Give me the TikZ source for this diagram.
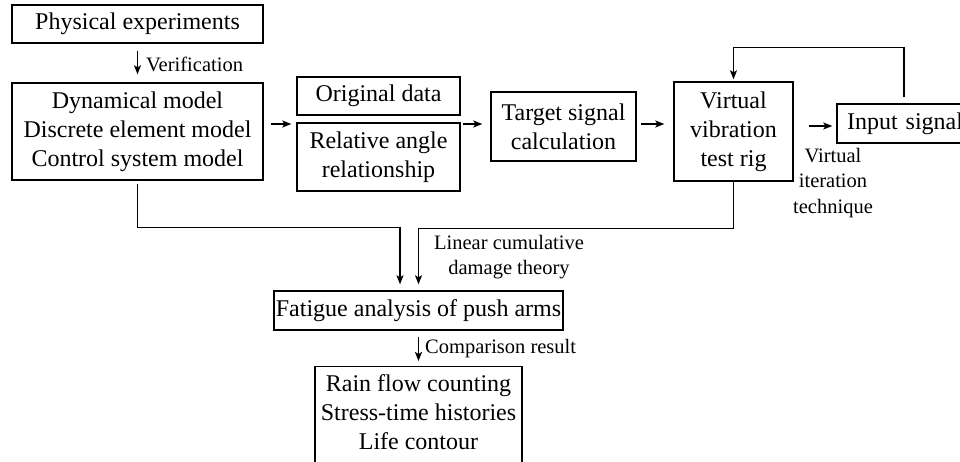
\documentclass[tikz,border=0pt]{standalone}
\usepackage{fontspec}
\setmainfont{Liberation Serif}
\usetikzlibrary{arrows.meta}
\begin{document}
\begin{tikzpicture}[x=1pt, y=-1pt,
    box/.style = {draw, line width=1.4pt, align=center, inner sep=0pt, font=\fontsize{24}{29}\selectfont},
    lbl/.style = {inner sep=0pt, align=center, font=\fontsize{20.5}{25.5}\selectfont},
    arr/.style = {line width=1.4pt, -{Stealth[length=9pt,width=7pt,inset=2pt]}}]
    \useasboundingbox (0,0) rectangle (960,462);
    \node[box, minimum width=251pt, minimum height=38pt] (phys) at (137.5,24) {Physical experiments};
    \node[box, minimum width=251pt, minimum height=97pt] (dyn) at (137.5,131.5) {Dynamical model\\Discrete element model\\Control system model};
    \node[box, minimum width=163pt, minimum height=38pt] (orig) at (378.5,96) {Original data};
    \node[box, minimum width=163pt, minimum height=68pt] (rel) at (378.5,157) {Relative angle\\relationship};
    \node[box, minimum width=145pt, minimum height=69pt] (target) at (563.5,126.5) {Target signal\\calculation};
    \node[box, minimum width=119pt, minimum height=99pt] (virt) at (733.5,131.5) {Virtual\\vibration\\test rig};
    \node[box, minimum width=150pt, minimum height=39pt, text width=130pt, align=left] (input) at (912,123.5) {Input signal};
    \node[box, minimum width=289pt, minimum height=39pt] (fatigue) at (418.5,310.5) {Fatigue analysis of push arms};
    \node[box, minimum width=207pt, minimum height=108pt, anchor=north] (result) at (418.5,366) {\\[-42pt]Rain flow counting\\Stress-time histories\\Life contour};
    % labels
    \node[lbl, anchor=west] (verif) at (146,64) {Verification};
    \node[lbl] (vit) at (833,183) {Virtual\\iteration\\technique};
    \node[lbl] (lcd) at (509,257) {Linear cumulative\\damage theory};
    \node[lbl, anchor=west] (comp) at (425,349) {Comparison result};
    % connectors
    \draw[arr, shorten <=7pt, shorten >=8pt] (phys.south) -- (dyn.north);
    \draw[arr, shorten <=7pt, shorten >=5pt] ([yshift=7.5pt]dyn.east) -- (rel.west |- 0,124);
    \draw[arr, shorten <=2pt, shorten >=8pt] (rel.east |- 0,124) -- (target.west |- 0,124);
    \draw[arr, shorten <=4pt, shorten >=9pt] (target.east |- 0,124) -- (virt.west |- 0,124);
    \draw[arr, shorten <=15pt, shorten >=4pt] (virt.east |- 0,126) -- (input.west |- 0,126);
    \draw[arr, shorten <=6pt, shorten >=2pt] ([xshift=-8pt]input.north) -- ++(0,-56) -| (virt.north);
    \draw[arr, shorten <=3pt, shorten >=6pt] (dyn.south) -- ++(0,47) -| ([xshift=-18.5pt]fatigue.north);
    \draw[arr, shorten >=6pt] (virt.south) -- ++(0,47) -| (fatigue.north);
    \draw[arr, shorten <=6pt, shorten >=5pt] (fatigue.south) -- (result.north);
\end{tikzpicture}
\end{document}
